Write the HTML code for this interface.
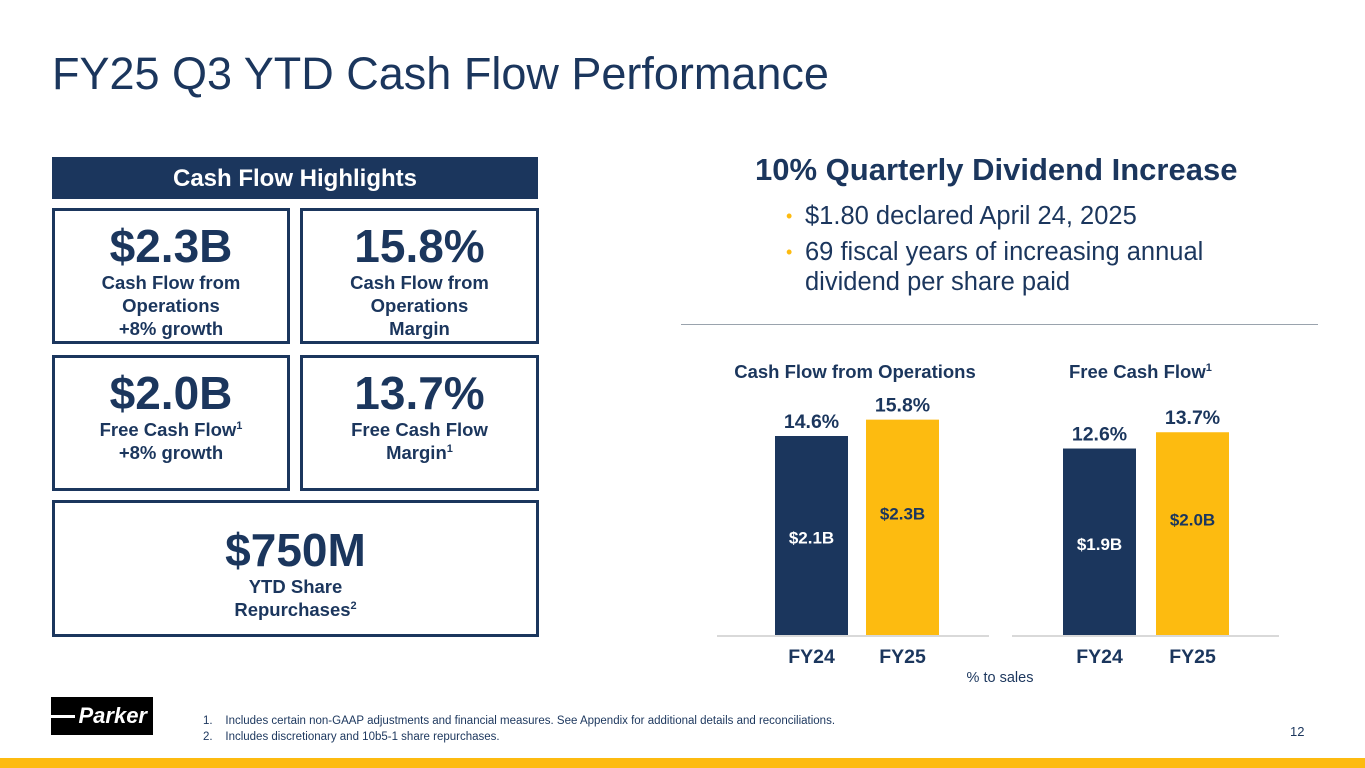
<!DOCTYPE html>
<html><head><meta charset="utf-8"><style>
body{margin:0;width:1365px;height:768px;position:relative;background:#fff;font-family:"Liberation Sans",Arial,sans-serif;overflow:hidden;color:#1b365d}
.abs{position:absolute}
.box{position:absolute;border:3px solid #1b365d;box-sizing:border-box;text-align:center;font-weight:bold}
.big{font-size:46px;line-height:46px;margin-top:12px}
.lbl{font-size:18.5px;line-height:23px;margin-top:2px}
sup{font-size:11px;vertical-align:7px;line-height:0}
</style></head><body>
<div class="abs" style="left:52px;top:48px;font-size:45px;color:#1b365d">FY25 Q3 YTD Cash Flow Performance</div>
<div class="abs" style="left:52px;top:157px;width:486px;height:42px;background:#1b365d;color:#fff;font-weight:bold;font-size:24px;line-height:44px;text-align:center">Cash Flow Highlights</div>
<div class="box" style="left:52px;top:208px;width:238px;height:136px"><div class="big">$2.3B</div><div class="lbl">Cash Flow from<br>Operations<br>+8% growth</div></div>
<div class="box" style="left:300px;top:208px;width:239px;height:136px"><div class="big">15.8%</div><div class="lbl">Cash Flow from<br>Operations<br>Margin</div></div>
<div class="box" style="left:52px;top:355px;width:238px;height:136px"><div class="big">$2.0B</div><div class="lbl">Free Cash Flow<sup>1</sup><br>+8% growth</div></div>
<div class="box" style="left:300px;top:355px;width:239px;height:136px"><div class="big">13.7%</div><div class="lbl">Free Cash Flow<br>Margin<sup>1</sup></div></div>
<div class="box" style="left:52px;top:500px;width:487px;height:137px"><div class="big" style="margin-top:24px">$750M</div><div class="lbl">YTD Share<br>Repurchases<sup>2</sup></div></div>

<div class="abs" style="left:755px;top:152px;font-size:31px;font-weight:bold">10% Quarterly Dividend Increase</div>
<div class="abs" style="left:805px;top:201px;font-size:25.5px;line-height:30px;color:#1b365d">
<div style="position:relative"><span style="position:absolute;left:-19px;color:#fdbb10;font-size:18px">•</span>$1.80 declared April 24, 2025</div>
<div style="position:relative;margin-top:6px"><span style="position:absolute;left:-19px;color:#fdbb10;font-size:18px">•</span>69 fiscal years of increasing annual<br>dividend per share paid</div>
</div>
<div class="abs" style="left:681px;top:324px;width:637px;height:1px;background:#9aa3ad"></div>

<svg class="abs" style="left:0;top:0" width="1365" height="768" id="chart"></svg>

<div class="abs" style="left:51px;top:697px;width:102px;height:38px;background:#000;color:#fff;font-weight:bold;font-size:22px;line-height:38px;font-style:italic;text-align:right;padding-right:6px;box-sizing:border-box"><span style="position:absolute;left:0;top:18px;width:24px;height:3px;background:#fff"></span>Parker</div>
<div class="abs" style="left:203px;top:713px;font-size:11.5px;line-height:16px;color:#1b365d">
<div>1.&nbsp;&nbsp;&nbsp;&nbsp;Includes certain non-GAAP adjustments and financial measures. See Appendix for additional details and reconciliations.</div>
<div>2.&nbsp;&nbsp;&nbsp;&nbsp;Includes discretionary and 10b5-1 share repurchases.</div></div>
<div class="abs" style="left:1290px;top:724px;font-size:13px;color:#1b365d">12</div>
<div class="abs" style="left:0;top:758px;width:1365px;height:10px;background:#fdbb10"></div>

<script>
const categories = ["FY24","FY25"];
const cfoPct = [14.6, 15.8];
const cfoVal = ["$2.1B","$2.3B"];
const fcfPct = [12.6, 13.7];
const fcfVal = ["$1.9B","$2.0B"];
const svg = document.getElementById('chart');
const NS = 'http://www.w3.org/2000/svg';
function mk(tag, attrs, text){const e=document.createElementNS(NS,tag);for(const k in attrs)e.setAttribute(k,attrs[k]);if(text!==undefined)e.textContent=text;svg.appendChild(e);return e;}
const base = 635;
function drawChart(name, title, pcts, vals, axisX0, axisX1, barX, scale, titleX){
  const ax=mk('line',{x1:axisX0,x2:axisX1,y1:base+1,y2:base+1,stroke:'#d9d9d9','stroke-width':2});
  
  
  const w=73;
  pcts.forEach((p,i)=>{
    const h=p*scale, x=barX[i], y=base-h;
    const r=mk('rect',{x:x,y:y,width:w,height:h,fill:i===0?'#1b365d':'#fdbb10'});
    
    
    const pl=mk('text',{x:x+w/2,y:y-8,'text-anchor':'middle','font-size':19.5,'font-weight':'bold',fill:'#1b365d'},p.toFixed(1)+'%');
    
    
    const vl=mk('text',{x:x+w/2,y:y+h/2+(i===0?8:-8),'text-anchor':'middle','font-size':17,'font-weight':'bold',fill:i===0?'#fff':'#1b365d'},vals[i]);
    
    
    const cl=mk('text',{x:x+w/2,y:663,'text-anchor':'middle','font-size':19.5,'font-weight':'bold',fill:'#1b365d'},categories[i]);
    
    
  });
}
drawChart('cfo','Cash Flow from Operations',cfoPct,cfoVal,717,989,[775,866],13.63,855);
drawChart('fcf','Free Cash Flow',fcfPct,fcfVal,1012,1279,[1063,1156],14.8,1140);
const t1=mk('text',{x:855,y:378,'text-anchor':'middle','font-size':18.5,'font-weight':'bold',fill:'#1b365d'},'Cash Flow from Operations');


const t2=mk('text',{x:1069,y:378,'font-size':18.5,'font-weight':'bold',fill:'#1b365d'});


t2.innerHTML='Free Cash Flow<tspan font-size="11" dy="-7">1</tspan>';
const ts=mk('text',{x:1000,y:682,'text-anchor':'middle','font-size':14.5,fill:'#1b365d'},'% to sales');


</script>
</body></html>
